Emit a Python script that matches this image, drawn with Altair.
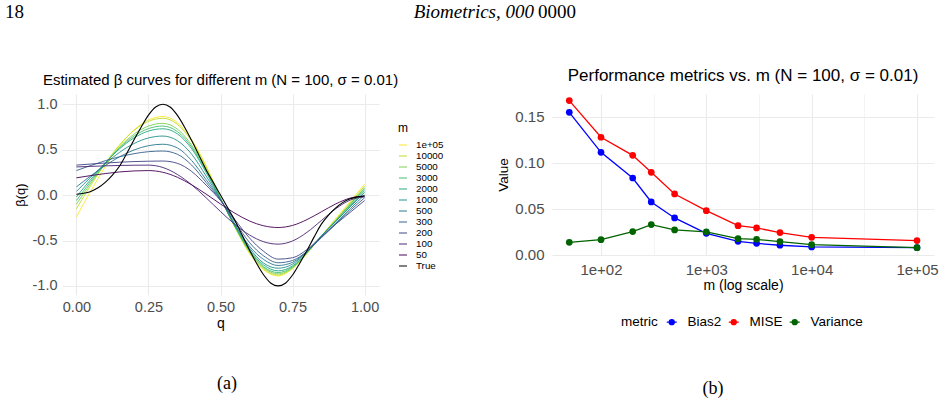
import altair as alt
import pandas as pd

# ---------------- data: panel (a) ----------------
q_grid = [0.00, 0.05, 0.10, 0.15, 0.20, 0.25, 0.30, 0.35, 0.40, 0.45, 0.50,
          0.55, 0.60, 0.65, 0.70, 0.75, 0.80, 0.85, 0.90, 0.95, 1.00]

m_labels = ["1e+05", "10000", "5000", "3000", "2000", "1000", "500", "300", "200", "100", "50"]

beta_1e5 = [-0.24, 0.046, 0.313, 0.541, 0.717, 0.827, 0.865, 0.798, 0.609, 0.323, -0.03,
            -0.355, -0.64, -0.823, -0.89, -0.81, -0.645, -0.45, -0.26, -0.07, 0.12]
beta_10000 = [-0.15, 0.108, 0.348, 0.554, 0.713, 0.812, 0.846, 0.78, 0.594, 0.31, -0.033,
              -0.35, -0.63, -0.814, -0.88, -0.805, -0.64, -0.45, -0.27, -0.086, 0.10]
beta_5000 = [-0.10, 0.131, 0.345, 0.529, 0.671, 0.76, 0.79, 0.727, 0.55, 0.28, -0.037,
             -0.35, -0.62, -0.80, -0.867, -0.80, -0.64, -0.45, -0.28, -0.10, 0.08]
beta_3000 = [-0.06, 0.152, 0.35, 0.52, 0.65, 0.732, 0.76, 0.70, 0.53, 0.265, -0.039,
             -0.345, -0.61, -0.79, -0.853, -0.79, -0.635, -0.45, -0.28, -0.105, 0.07]
beta_2000 = [-0.02, 0.174, 0.355, 0.51, 0.63, 0.705, 0.73, 0.675, 0.51, 0.25, -0.04,
             -0.34, -0.60, -0.77, -0.834, -0.78, -0.63, -0.45, -0.29, -0.12, 0.05]
beta_1000 = [0.04, 0.198, 0.345, 0.471, 0.568, 0.629, 0.65, 0.60, 0.45, 0.21, -0.045,
             -0.33, -0.58, -0.75, -0.805, -0.76, -0.62, -0.45, -0.29, -0.13, 0.03]
beta_500 = [0.09, 0.212, 0.325, 0.422, 0.497, 0.544, 0.56, 0.52, 0.38, 0.17, -0.05,
            -0.32, -0.56, -0.71, -0.775, -0.74, -0.62, -0.46, -0.31, -0.15, 0.0]
beta_300 = [0.27, 0.326, 0.378, 0.422, 0.456, 0.478, 0.485, 0.45, 0.33, 0.14, -0.055,
            -0.29, -0.52, -0.67, -0.745, -0.72, -0.62, -0.47, -0.32, -0.17, -0.03]
beta_200 = [0.33, 0.342, 0.353, 0.362, 0.369, 0.373, 0.375, 0.35, 0.26, 0.11, -0.06,
            -0.27, -0.47, -0.62, -0.705, -0.69, -0.60, -0.46, -0.32, -0.19, -0.06]
beta_100 = [0.31, 0.316, 0.322, 0.326, 0.329, 0.33, 0.304, 0.228, 0.113, -0.029, -0.181,
            -0.323, -0.438, -0.514, -0.54, -0.505, -0.41, -0.28, -0.15, -0.055, -0.02]
beta_50 = [0.19, 0.215, 0.237, 0.255, 0.266, 0.27, 0.251, 0.197, 0.113, 0.011, -0.098,
           -0.200, -0.284, -0.338, -0.357, -0.334, -0.270, -0.184, -0.097, -0.033, -0.01]

beta_est = [beta_1e5, beta_10000, beta_5000, beta_3000, beta_2000, beta_1000,
            beta_500, beta_300, beta_200, beta_100, beta_50]

true_q = [0.000, 0.025, 0.050, 0.075, 0.100, 0.125, 0.150, 0.175, 0.200, 0.225, 0.250,
          0.275, 0.300, 0.325, 0.350, 0.375, 0.400, 0.425, 0.450, 0.475, 0.500,
          0.525, 0.550, 0.575, 0.600, 0.625, 0.650, 0.675, 0.700, 0.725, 0.750,
          0.775, 0.800, 0.825, 0.850, 0.875, 0.900, 0.925, 0.950, 0.975, 1.000]
true_beta = [0.01, 0.02, 0.04, 0.08, 0.14, 0.22, 0.32, 0.46, 0.61, 0.75, 0.88,
             0.97, 1.00, 0.97, 0.88, 0.75, 0.60, 0.44, 0.28, 0.14, 0.00,
             -0.14, -0.28, -0.44, -0.60, -0.75, -0.88, -0.97, -1.00, -0.97, -0.88,
             -0.75, -0.61, -0.46, -0.32, -0.22, -0.14, -0.08, -0.04, -0.02, -0.01]

legend_order = m_labels + ["True"]
legend_colors = ["#FDE725", "#BBDF27", "#7AD151", "#43BF71", "#22A884", "#21908C",
                 "#2A788E", "#35608D", "#414487", "#482576", "#440154", "#000000"]

# ---------------- data: panel (b) ----------------
m_values = [50, 100, 200, 300, 500, 1000, 2000, 3000, 5000, 10000, 100000]
bias2 = [0.1550, 0.1115, 0.0835, 0.0574, 0.0400, 0.0232, 0.0145, 0.0123, 0.0102, 0.0084, 0.0076]
mise = [0.1678, 0.1279, 0.1082, 0.0897, 0.0661, 0.0479, 0.0316, 0.0291, 0.0240, 0.0189, 0.0153]
variance = [0.0134, 0.0163, 0.0251, 0.0327, 0.0269, 0.0249, 0.0174, 0.0167, 0.0142, 0.0109, 0.0076]
metric_names = ["Bias2", "MISE", "Variance"]
metric_colors = ["#0000FF", "#FF0000", "#006400"]

# ---------------- tables ----------------
rows = []
for lab, vals in zip(m_labels, beta_est):
    for q, b in zip(q_grid, vals):
        rows.append({"q": q, "beta": b, "m": lab})
df_est = pd.DataFrame(rows)
df_true = pd.DataFrame({"q": true_q, "beta": true_beta, "m": ["True"] * len(true_q)})

mrows = []
for name, vals in zip(metric_names, [bias2, mise, variance]):
    for mv, v in zip(m_values, vals):
        mrows.append({"m": mv, "value": v, "metric": name})
df_met = pd.DataFrame(mrows)

# ---------------- style ----------------
FONT = "Liberation Sans"
SERIF = "Liberation Serif"
GRID = "#EBEBEB"
LAB = "#4D4D4D"
W1, H1 = 317, 201
W2, H2 = 382, 161


def txt(s, x, y, size, font=FONT, style="normal", align="center"):
    return alt.Chart(pd.DataFrame({"t": [s]})).mark_text(
        align=align, baseline="alphabetic", font=font, fontSize=size,
        fontStyle=style, color="black"
    ).encode(text="t:N", x=alt.value(x), y=alt.value(y))


def gw(test):
    return alt.condition(test, alt.value(1.1), alt.value(0.55))


# ---------------- panel (a) ----------------
x_left = alt.X(
    "q:Q",
    scale=alt.Scale(domain=[-0.05, 1.05], nice=False, zero=False),
    axis=alt.Axis(
        values=[0, 0.125, 0.25, 0.375, 0.5, 0.625, 0.75, 0.875, 1],
        labelExpr="datum.value % 0.25 == 0 ? format(datum.value, '.2f') : ''",
        grid=True, gridColor=GRID, gridWidth=gw("datum.value % 0.25 == 0"),
        ticks=False, domain=False, labelFont=FONT, labelFontSize=14.5, labelColor=LAB,
        labelPadding=5, labelFlush=False, labelOverlap=False,
        title="q", titleFont=FONT, titleFontSize=14, titleFontWeight="normal",
        titleColor="black", titleX=W1 / 2, titleY=28, titleBaseline="middle",
        titleAlign="center",
    ),
)
y_left = alt.Y(
    "beta:Q",
    scale=alt.Scale(domain=[-1.1, 1.113], nice=False, zero=False),
    axis=alt.Axis(
        values=[-1, -0.75, -0.5, -0.25, 0, 0.25, 0.5, 0.75, 1],
        labelExpr="datum.value % 0.5 == 0 ? (datum.value < 0 ? '-' : '') + format(abs(datum.value), '.1f') : ''",
        grid=True, gridColor=GRID, gridWidth=gw("datum.value % 0.5 == 0"),
        ticks=False, domain=False, labelFont=FONT, labelFontSize=14.5, labelColor=LAB,
        labelPadding=5, labelFlush=False, labelOverlap=False,
        title="β(q)", titleFont=FONT, titleFontSize=13, titleFontWeight="normal",
        titleColor="black", titleX=-42, titleY=H1 / 2, titleAngle=270,
        titleBaseline="middle", titleAlign="center",
    ),
)
left_legend = alt.Legend(
    orient="none", legendX=336, legendY=29, title="m", titleFont=FONT,
    titleFontSize=12, titleFontWeight="normal", titleColor="black", titlePadding=5,
    labelFont=FONT, labelFontSize=9.8, labelColor="black", labelOffset=8,
    symbolType="stroke", symbolSize=64, symbolStrokeWidth=1.5, symbolOpacity=0.65,
    rowPadding=1,
)
color_left = alt.Color("m:N", scale=alt.Scale(domain=legend_order, range=legend_colors),
                       legend=left_legend)

est = alt.Chart(df_est).mark_line(strokeWidth=1, opacity=0.9, interpolate="monotone").encode(
    x=x_left, y=y_left, color=color_left)
true_line = alt.Chart(df_true).mark_line(strokeWidth=1.1, interpolate="monotone").encode(
    x="q:Q", y="beta:Q", color=color_left)

left = alt.layer(
    est, true_line,
    txt("18", -57, -75.7, 19, font=SERIF, align="left"),
    txt("Biometrics, 000", 472, -75.7, 19, font=SERIF, style="italic", align="right"),
    txt("0000", 476, -75.7, 19, font=SERIF, align="left"),
    txt("Estimated β curves for different m (N = 100, σ = 0.01)", W1 / 2, -9, 15),
    txt("(a)", 165, 295, 18, font=SERIF),
).properties(width=W1, height=H1)

# ---------------- panel (b) ----------------
major_log = "abs(log(datum.value)/LN10 - round(log(datum.value)/LN10)) < 0.01"
x_right = alt.X(
    "m:Q",
    scale=alt.Scale(type="log", domain=[34.27, 145000], nice=False),
    axis=alt.Axis(
        values=[100, 316.2278, 1000, 3162.278, 10000, 31622.78, 100000],
        labelExpr="(" + major_log + ") ? '1e+0' + round(log(datum.value)/LN10) : ''",
        grid=True, gridColor=GRID, gridWidth=gw(major_log),
        ticks=False, domain=False, labelFont=FONT, labelFontSize=15, labelColor=LAB,
        labelPadding=7, labelFlush=False, labelOverlap=False,
        title="m (log scale)", titleFont=FONT, titleFontSize=14, titleFontWeight="normal",
        titleColor="black", titleX=W2 / 2, titleY=30.6, titleBaseline="middle",
        titleAlign="center",
    ),
)
major_y = "abs(datum.value*20 - round(datum.value*20)) < 0.001"
y_right = alt.Y(
    "value:Q",
    scale=alt.Scale(domain=[-0.0004, 0.1750], nice=False, zero=False),
    axis=alt.Axis(
        values=[0, 0.025, 0.05, 0.075, 0.1, 0.125, 0.15, 0.175],
        labelExpr="(" + major_y + ") ? format(datum.value, '.2f') : ''",
        grid=True, gridColor=GRID, gridWidth=gw(major_y),
        ticks=False, domain=False, labelFont=FONT, labelFontSize=15, labelColor=LAB,
        labelPadding=8, labelFlush=False, labelOverlap=False,
        title="Value", titleFont=FONT, titleFontSize=13.5, titleFontWeight="normal",
        titleColor="black", titleX=-48.5, titleY=H2 / 2, titleAngle=270,
        titleBaseline="middle", titleAlign="center",
    ),
)
sym_expr = ("datum.value == 'Bias2' ? '#0000FF' : "
            "datum.value == 'MISE' ? '#FF0000' : '#006400'")
right_legend = alt.Legend(
    orient="none", legendX=69, legendY=221, direction="horizontal", titleOrient="left",
    title="metric", titleFont=FONT, titleFontSize=13.5, titleFontWeight="normal",
    titleColor="black", titlePadding=7, titleBaseline="middle",
    labelFont=FONT, labelFontSize=13.5, labelColor="black", labelOffset=9,
    columnPadding=4,
    symbolType="M-1,0L1,0M0.5,0A0.5,0.5,0,1,1,-0.5,0A0.5,0.5,0,1,1,0.5,0Z",
    symbolSize=100, symbolStrokeWidth=1.3, symbolOpacity=1,
    symbolStrokeColor=alt.ExprRef(expr=sym_expr),
    symbolFillColor=alt.ExprRef(expr=sym_expr),
)
color_right = alt.Color("metric:N", scale=alt.Scale(domain=metric_names, range=metric_colors),
                        legend=right_legend)

lines = alt.Chart(df_met).mark_line(strokeWidth=1.3).encode(
    x=x_right, y=y_right, color=color_right)
points = alt.Chart(df_met).mark_point(filled=True, size=45, opacity=1).encode(
    x="m:Q", y="value:Q", color=color_right)

right = alt.layer(
    lines, points,
    txt("Performance metrics vs. m (N = 100, σ = 0.01)", W2 / 2, -13.3, 17),
    txt("(b)", 161, 300, 18, font=SERIF),
).properties(width=W2, height=H2)

chart = alt.hconcat(left, right, spacing=173, bounds="flush").resolve_scale(
    color="independent"
).properties(
    padding={"left": 5, "top": 3, "right": 0, "bottom": 0},
    background="white",
).configure_view(stroke=None)

chart.save("out.html", embed_options={"renderer": "svg", "actions": False})
